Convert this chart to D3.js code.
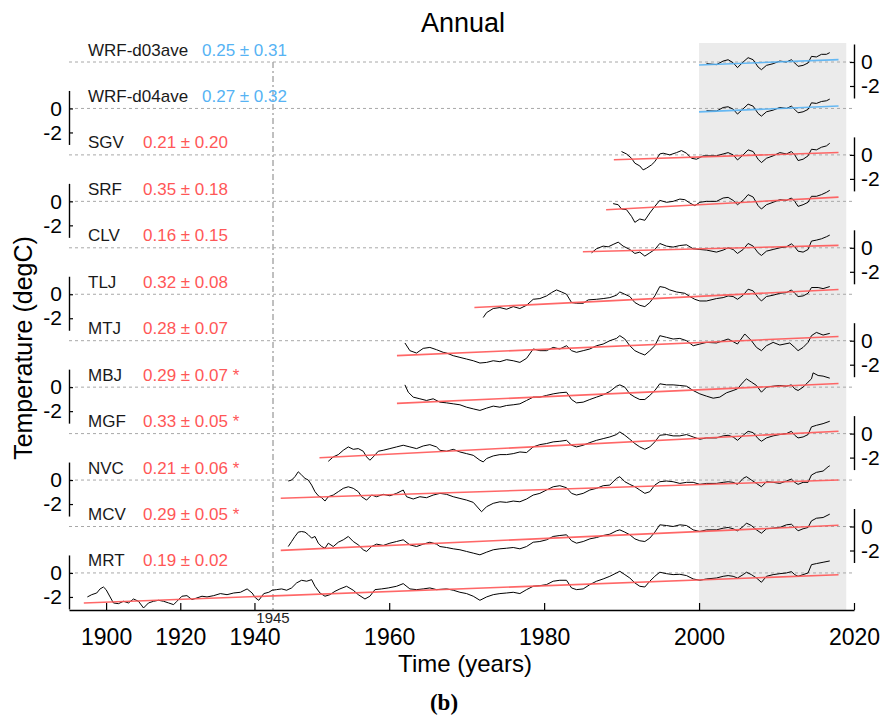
<!DOCTYPE html>
<html>
<head>
<meta charset="utf-8">
<script src="https://cdn.jsdelivr.net/npm/d3@7"></script>
<style>
  body { margin: 0; background: #fff; }
  svg { display: block; font-family: "Liberation Sans", Arial, Helvetica, sans-serif; }
</style>
</head>
<body>
<div id="chart"></div>
<script>
// Stations, top to bottom
const stations = ["WRF-d03ave", "WRF-d04ave", "SGV", "SRF", "CLV", "TLJ", "MTJ", "MBJ", "MGF", "NVC", "MCV", "MRT"];
const isModel = [true, true, false, false, false, false, false, false, false, false, false, false];

// Trend (degC / decade), +/- and significance mark
const trendSlope = [0.25, 0.27, 0.21, 0.35, 0.16, 0.32, 0.28, 0.29, 0.33, 0.21, 0.29, 0.19];
const trendErr = [0.31, 0.32, 0.20, 0.18, 0.15, 0.08, 0.07, 0.07, 0.05, 0.06, 0.05, 0.02];
const trendSigMark = [false, false, false, false, false, false, false, true, true, true, true, false];
const trendStart = [2000, 2000, 1989, 1988, 1985, 1971, 1961, 1961, 1951, 1946, 1946, 1894];
const trendEndYear = 2018;
const trendEndValue = [0.2, 0.2, 0.2, 0.35, 0.2, 0.4, 0.35, 0.3, 0.2, 0.0, 0.1, -0.15];

// Axis ticks
const xTicks = [1900, 1920, 1940, 1960, 1980, 2000, 2020];
const yTicks = [0, -2];
const breakYear = 1945;
const shadeYears = [2000, 2019];

// Anomaly series [year, degC]
const serD03 = [[2000.96,-0.14],[2002.25,-0.22],[2003.11,0.08],[2003.75,0.19],[2004.4,-0.06],[2004.96,-0.47],[2005.69,0],[2006.33,0.36],[2006.98,0.19],[2007.62,-0.42],[2008.05,-0.64],[2008.7,-0.28],[2009.56,-0.14],[2010.42,0.08],[2011.28,0],[2011.92,0.19],[2012.35,-0.08],[2012.78,-0.36],[2013.43,-0.28],[2014.07,-0.08],[2014.51,0.47],[2015.15,0.42],[2015.8,0.64],[2016.44,0.64],[2016.87,0.78]];
const serD04 = [[2000.96,-0.19],[2002.25,-0.22],[2003.11,0.08],[2003.75,0.14],[2004.4,-0.06],[2004.96,-0.47],[2005.69,-0.03],[2006.33,0.36],[2006.98,0.19],[2007.62,-0.42],[2008.05,-0.64],[2008.7,-0.28],[2009.56,-0.14],[2010.42,0.08],[2011.28,0],[2011.92,0.19],[2012.35,-0.08],[2012.78,-0.36],[2013.43,-0.28],[2014.07,-0.08],[2014.51,0.47],[2015.15,0.42],[2015.8,0.58],[2016.44,0.64],[2016.87,0.78]];
const serSGV = [[1989.99,0.28],[1990.63,0.08],[1991.28,-0.28],[1991.71,-0.69],[1992.35,-0.92],[1992.78,-1.25],[1993.21,-1.11],[1993.86,-0.83],[1994.29,-0.56],[1994.93,0.08],[1995.37,0.14],[1996.22,0],[1997.09,0.19],[1997.73,0.36],[1998.38,0.14],[1999.02,-0.28],[1999.67,-0.36],[2000.53,-0.08],[2002.25,-0.08],[2003.11,0.08],[2003.75,0.19],[2004.4,0],[2004.96,-0.42],[2005.69,0],[2006.33,0.42],[2006.98,0.28],[2007.62,-0.36],[2008.05,-0.64],[2008.7,-0.28],[2009.56,-0.08],[2010.42,0.19],[2011.28,0.08],[2011.92,0.28],[2012.35,0],[2012.78,-0.47],[2013.43,-0.36],[2014.07,-0.08],[2014.51,0.47],[2015.15,0.42],[2015.8,0.64],[2016.44,0.75],[2016.87,0.97]];
const serSRF = [[1988.91,-0.19],[1989.56,-0.28],[1989.99,-0.64],[1990.63,-0.69],[1991.28,-1.25],[1991.71,-1.75],[1992.35,-1.47],[1993.0,-1.58],[1993.64,-0.97],[1994.29,-0.42],[1994.93,0.08],[1995.8,-0.08],[1996.65,0],[1997.52,0.19],[1998.16,0.14],[1998.81,-0.14],[1999.45,-0.36],[2000.1,-0.08],[2000.96,0],[2002.25,0],[2003.11,0.28],[2003.75,0.33],[2004.4,0.08],[2004.96,-0.28],[2005.69,0.08],[2006.33,0.56],[2006.98,0.36],[2007.62,-0.36],[2008.05,-0.64],[2008.7,-0.28],[2009.56,-0.08],[2010.42,0.14],[2011.28,0.08],[2011.92,0.28],[2012.35,0],[2012.78,-0.42],[2013.43,-0.28],[2014.07,-0.08],[2014.51,0.42],[2015.15,0.42],[2015.8,0.56],[2016.44,0.75],[2016.87,0.92]];
const serCLV = [[1986.12,-0.42],[1986.76,-0.08],[1987.62,0.14],[1988.27,0.08],[1988.91,0.28],[1989.56,0.47],[1990.2,0.14],[1991.06,-0.14],[1991.71,-0.47],[1992.35,-0.36],[1993.0,-0.69],[1993.64,-0.42],[1994.29,-0.14],[1994.93,0.36],[1995.8,0.14],[1996.65,0.06],[1997.52,0.19],[1998.38,0.25],[1999.24,-0.08],[2000.1,-0.14],[2000.96,-0.19],[2002.25,-0.36],[2003.11,-0.19],[2003.75,0],[2004.4,-0.14],[2004.96,-0.47],[2005.69,-0.14],[2006.33,0.36],[2006.98,0.14],[2007.62,-0.42],[2008.05,-0.64],[2008.7,-0.28],[2009.56,-0.14],[2010.42,0],[2011.28,0.08],[2011.92,0.33],[2012.35,0.08],[2012.78,-0.28],[2013.43,-0.36],[2014.07,-0.14],[2014.51,0.56],[2015.15,0.64],[2015.8,0.75],[2016.44,0.92],[2016.87,1.06]];
const serTLJ = [[1972.14,-1.94],[1972.57,-1.53],[1973.43,-1.19],[1974.29,-1.11],[1975.15,-1.25],[1976.01,-1.03],[1976.87,-1.19],[1977.73,-0.92],[1978.59,-0.42],[1979.45,-0.36],[1980.31,-0.14],[1980.96,0.14],[1981.6,0.36],[1982.25,0.19],[1982.89,0],[1983.54,-0.69],[1984.18,-0.75],[1985.04,-0.75],[1985.69,-0.47],[1986.76,-0.42],[1987.62,-0.36],[1988.48,-0.28],[1989.34,-0.08],[1989.77,0.19],[1990.42,0],[1991.06,-0.19],[1991.71,-0.69],[1992.35,-0.92],[1993.0,-1.03],[1993.64,-0.69],[1994.29,-0.14],[1994.93,0.64],[1995.58,0.56],[1996.22,0.36],[1997.09,0.19],[1998.16,0.08],[1998.81,-0.19],[1999.45,-0.42],[2000.1,-0.56],[2000.96,-0.56],[2002.25,-0.36],[2003.11,-0.28],[2003.75,-0.14],[2004.4,-0.19],[2004.96,-0.42],[2005.69,-0.08],[2006.33,0.42],[2006.98,0.28],[2007.62,-0.28],[2008.05,-0.56],[2008.7,-0.19],[2009.56,-0.08],[2010.42,0.08],[2011.28,0.14],[2011.92,0.36],[2012.35,0.08],[2012.78,-0.19],[2013.43,-0.14],[2014.07,0.08],[2014.51,0.56],[2015.37,0.56],[2016.01,0.47],[2016.87,0.64]];
const serMTJ = [[1962.03,-0.19],[1962.67,-0.83],[1963.53,-1.03],[1964.39,-0.64],[1965.25,-0.56],[1966.11,-0.75],[1966.97,-0.97],[1967.41,-1.03],[1968.27,-1.25],[1969.13,-1.39],[1969.99,-1.53],[1970.85,-1.67],[1971.71,-1.86],[1972.57,-1.81],[1973.43,-1.67],[1974.29,-1.75],[1975.15,-1.58],[1976.01,-1.67],[1976.87,-1.81],[1977.73,-1.47],[1978.59,-0.69],[1979.45,-0.83],[1980.31,-0.83],[1981.17,-0.56],[1982.03,-0.69],[1982.89,-0.42],[1983.54,-0.83],[1984.18,-0.97],[1985.04,-0.83],[1985.9,-0.69],[1986.76,-0.42],[1987.62,-0.28],[1988.48,0],[1989.34,0.19],[1989.77,0.42],[1990.42,0.14],[1991.06,-0.42],[1991.71,-0.83],[1992.35,-1.03],[1993.0,-1.19],[1993.64,-0.83],[1994.29,-0.42],[1994.93,0.42],[1995.8,0.28],[1996.65,0.14],[1997.52,0.19],[1998.38,0],[1999.24,-0.42],[2000.1,-0.28],[2000.96,-0.14],[2002.25,-0.19],[2003.11,0],[2003.75,0.14],[2004.4,-0.08],[2004.96,-0.28],[2005.9,0.56],[2006.76,0],[2007.41,-0.56],[2008.05,-0.83],[2008.7,-0.42],[2009.56,-0.14],[2010.42,-0.36],[2011.71,-0.19],[2012.35,-0.56],[2012.78,-0.83],[2013.43,-0.56],[2014.07,-0.14],[2014.51,0.42],[2015.15,0.69],[2016.01,0.47],[2016.87,0.61]];
const serMBJ = [[1962.03,0.19],[1962.46,-0.42],[1963.1,-0.83],[1963.96,-0.97],[1964.82,-1.11],[1965.68,-0.97],[1966.54,-1.25],[1967.41,-1.31],[1968.27,-1.39],[1969.13,-1.47],[1969.99,-1.67],[1970.85,-1.81],[1971.71,-1.94],[1972.57,-1.75],[1973.43,-1.58],[1974.29,-1.67],[1975.15,-1.53],[1976.01,-1.47],[1976.87,-1.39],[1977.73,-1.11],[1978.59,-0.83],[1979.45,-0.83],[1980.31,-0.69],[1981.17,-0.56],[1982.03,-0.47],[1982.89,-0.42],[1983.54,-1.03],[1984.18,-1.31],[1985.04,-1.25],[1985.9,-1.03],[1986.76,-0.83],[1987.62,-0.64],[1988.48,-0.36],[1989.34,0.08],[1989.77,0.19],[1990.42,0],[1991.06,-0.56],[1991.71,-0.83],[1992.35,-1.03],[1993.0,-1.03],[1993.64,-0.69],[1994.29,-0.28],[1994.93,0.28],[1995.8,0.19],[1996.65,0.19],[1997.52,0.14],[1998.38,0.08],[1999.24,-0.28],[2000.1,-0.56],[2000.96,-0.75],[2001.82,-0.92],[2002.68,-0.83],[2003.54,-0.47],[2004.4,-0.28],[2004.96,-0.14],[2005.69,0.42],[2006.12,0.69],[2006.76,0.42],[2007.41,0.14],[2008.05,-0.42],[2008.7,0],[2009.56,0.08],[2010.42,0.14],[2011.28,0.08],[2011.92,0.19],[2012.35,-0.14],[2012.78,-0.28],[2013.43,0],[2014.07,0.42],[2014.51,0.69],[2014.72,1.19],[2015.37,0.97],[2016.01,0.92],[2016.87,0.75]];
const serMGF = [[1952.14,-2.31],[1952.78,-1.94],[1953.43,-1.75],[1954.07,-1.39],[1954.72,-1.11],[1955.36,-1.31],[1956.01,-1.25],[1956.65,-1.47],[1957.08,-1.94],[1957.51,-2.22],[1957.94,-1.94],[1958.59,-1.47],[1959.23,-1.39],[1960.09,-1.25],[1960.95,-1.11],[1961.81,-0.97],[1962.67,-1.11],[1963.53,-1.25],[1964.39,-1.03],[1965.25,-0.92],[1966.11,-1.11],[1966.55,-1.39],[1967.41,-1.47],[1968.27,-1.31],[1969.13,-1.53],[1969.99,-1.67],[1970.85,-1.81],[1971.71,-2.22],[1972.14,-2.36],[1972.57,-2.08],[1973.43,-1.86],[1974.29,-1.75],[1975.15,-1.75],[1976.01,-1.67],[1976.87,-1.53],[1977.73,-1.58],[1978.59,-1.11],[1979.45,-0.92],[1980.31,-0.83],[1981.17,-0.69],[1982.03,-0.64],[1982.89,-0.56],[1983.54,-0.97],[1984.18,-1.11],[1985.04,-0.97],[1985.9,-0.75],[1986.76,-0.56],[1987.62,-0.42],[1988.48,-0.28],[1989.34,-0.08],[1989.77,0.14],[1990.42,-0.14],[1991.06,-0.47],[1991.71,-0.83],[1992.35,-1.11],[1993.0,-1.31],[1993.64,-1.11],[1994.29,-0.69],[1994.93,-0.14],[1995.8,-0.08],[1996.65,-0.19],[1997.52,-0.19],[1998.38,-0.08],[1999.24,-0.28],[2000.1,-0.47],[2000.96,-0.36],[2002.25,-0.36],[2003.11,-0.19],[2003.75,-0.14],[2004.4,-0.28],[2004.96,-0.56],[2005.69,-0.14],[2006.33,0.19],[2006.98,0.08],[2007.62,-0.42],[2008.05,-0.64],[2008.7,-0.36],[2009.56,-0.19],[2010.42,-0.08],[2011.28,0],[2011.92,0.19],[2012.35,-0.14],[2012.78,-0.36],[2013.43,-0.28],[2014.07,-0.08],[2014.51,0.56],[2015.15,0.69],[2016.01,0.83],[2016.87,1.03]];
const serNVC = [[1946.97,-0.08],[1947.4,0],[1947.83,0.28],[1948.26,0.69],[1948.69,0.42],[1949.13,0.14],[1949.56,0],[1949.99,-0.42],[1950.42,-0.97],[1950.85,-1.31],[1951.28,-1.47],[1951.71,-1.75],[1952.14,-1.39],[1952.78,-1.25],[1953.43,-0.97],[1954.07,-0.69],[1954.72,-0.56],[1955.36,-0.69],[1956.01,-0.97],[1956.44,-1.39],[1957.08,-1.67],[1957.73,-1.25],[1958.37,-1.39],[1959.23,-1.19],[1960.09,-1.31],[1960.95,-1.11],[1961.81,-0.83],[1962.24,-1.39],[1963.1,-1.58],[1963.96,-1.39],[1964.82,-1.47],[1965.68,-1.25],[1966.55,-1.11],[1967.41,-1.19],[1968.27,-1.39],[1969.13,-1.53],[1969.99,-1.67],[1970.85,-1.86],[1971.92,-2.64],[1972.57,-2.22],[1973.43,-1.94],[1974.29,-1.81],[1975.15,-1.86],[1976.01,-1.75],[1976.87,-1.81],[1977.73,-1.58],[1978.59,-1.25],[1979.45,-1.11],[1980.31,-0.83],[1981.17,-0.56],[1982.03,-0.47],[1982.89,-0.64],[1983.54,-1.11],[1984.18,-1.25],[1985.04,-1.11],[1985.9,-0.83],[1986.76,-0.69],[1987.62,-0.47],[1988.48,-0.42],[1989.34,0.14],[1989.77,0.28],[1990.42,-0.14],[1991.06,-0.36],[1991.71,-0.56],[1992.35,-0.83],[1993.0,-1.11],[1993.64,-0.97],[1994.29,-0.42],[1994.93,-0.14],[1995.8,-0.08],[1996.65,-0.14],[1997.52,-0.28],[1998.38,-0.19],[1999.24,-0.19],[2000.1,-0.36],[2000.96,-0.28],[2002.25,-0.28],[2003.11,-0.19],[2003.75,-0.14],[2004.4,-0.19],[2004.96,-0.36],[2005.69,0.14],[2006.12,0.28],[2006.76,0],[2007.41,-0.28],[2008.05,-0.56],[2008.7,-0.14],[2009.56,-0.19],[2010.42,-0.28],[2011.28,-0.08],[2011.92,0.08],[2012.35,-0.19],[2012.78,-0.36],[2013.43,-0.19],[2014.07,-0.19],[2014.51,0.42],[2015.15,0.64],[2016.01,0.75],[2016.66,1.11],[2016.87,1.19]];
const serMCV = [[1946.97,-1.67],[1947.4,-1.25],[1947.83,-0.83],[1948.26,-0.47],[1948.69,-0.42],[1949.13,-0.47],[1949.56,-0.69],[1949.99,-0.97],[1950.42,-0.83],[1950.85,-1.39],[1951.28,-1.67],[1951.71,-1.81],[1952.14,-1.39],[1952.78,-1.67],[1953.43,-1.31],[1954.07,-1.11],[1954.72,-0.83],[1955.36,-1.25],[1956.01,-1.53],[1956.65,-1.94],[1957.08,-2.08],[1957.73,-1.67],[1958.37,-1.47],[1959.23,-1.58],[1960.09,-1.39],[1960.95,-1.25],[1961.81,-1.11],[1962.67,-1.53],[1963.53,-1.67],[1964.39,-1.47],[1965.25,-1.31],[1966.11,-1.47],[1966.55,-1.67],[1967.41,-1.75],[1968.27,-1.86],[1969.13,-1.94],[1969.99,-2.08],[1970.85,-2.22],[1971.71,-2.36],[1972.57,-2.14],[1973.43,-1.94],[1974.29,-1.86],[1975.15,-1.81],[1976.01,-1.75],[1976.87,-1.86],[1977.73,-1.67],[1978.59,-1.31],[1979.45,-1.25],[1980.31,-1.11],[1981.17,-0.83],[1982.03,-0.75],[1982.89,-0.69],[1983.54,-1.19],[1984.18,-1.39],[1985.04,-1.25],[1985.9,-1.03],[1986.76,-0.92],[1987.62,-0.75],[1988.48,-0.64],[1989.34,-0.36],[1989.77,-0.28],[1990.42,-0.47],[1991.06,-0.69],[1991.71,-1.03],[1992.35,-1.19],[1993.0,-1.25],[1993.64,-0.97],[1994.29,-0.47],[1994.93,0.14],[1995.8,0.08],[1996.65,0],[1997.52,0.14],[1998.38,0.08],[1999.24,-0.28],[2000.1,-0.42],[2000.96,-0.28],[2002.25,-0.28],[2003.11,-0.14],[2003.75,-0.08],[2004.4,-0.19],[2004.96,-0.36],[2005.69,0],[2006.12,0.28],[2006.76,0.08],[2007.41,-0.28],[2008.05,-0.56],[2008.7,-0.19],[2009.56,-0.14],[2010.42,-0.08],[2011.28,0.14],[2011.92,0.19],[2012.35,-0.08],[2012.78,-0.36],[2013.43,-0.19],[2014.07,-0.08],[2014.51,0.47],[2015.15,0.69],[2016.01,0.75],[2016.87,1.03]];
const serMRT = [[1894.95,-2.0],[1896.13,-1.81],[1897.48,-1.67],[1898.38,-1.33],[1899.28,-1.17],[1900.0,-1.39],[1901.08,-2.0],[1901.98,-2.5],[1903.33,-2.56],[1904.68,-2.36],[1906.04,-2.5],[1907.39,-2.17],[1908.74,-2.36],[1910.09,-2.92],[1911.44,-2.5],[1912.79,-2.36],[1914.14,-2.28],[1915.5,-2.36],[1916.85,-2.5],[1918.2,-2.64],[1919.1,-2.36],[1920.45,-1.94],[1921.8,-1.89],[1923.15,-2.22],[1924.5,-2.08],[1925.86,-1.94],[1927.21,-2.0],[1929.01,-1.89],[1930.81,-1.72],[1932.61,-1.81],[1934.41,-1.67],[1936.22,-1.61],[1938.02,-1.33],[1939.37,-1.67],[1940.27,-2.08],[1941.17,-2.28],[1942.52,-1.72],[1943.87,-1.61],[1944.77,-1.44],[1945.47,-1.39],[1946.11,-1.33],[1946.76,-1.44],[1947.4,-1.25],[1948.05,-0.83],[1948.69,-0.61],[1949.34,-0.69],[1949.99,-0.56],[1950.42,-1.11],[1951.06,-1.67],[1951.71,-1.94],[1952.35,-1.81],[1953.0,-1.53],[1953.64,-1.33],[1954.5,-1.11],[1955.36,-1.44],[1956.01,-1.81],[1956.87,-2.17],[1957.51,-1.94],[1958.16,-1.39],[1959.02,-1.33],[1959.88,-1.25],[1960.95,-1.11],[1961.81,-0.89],[1962.67,-1.33],[1963.53,-1.39],[1964.39,-1.33],[1965.25,-1.25],[1966.11,-1.39],[1967.41,-1.33],[1968.27,-1.44],[1969.13,-1.61],[1969.99,-1.72],[1970.85,-1.94],[1971.71,-2.28],[1972.57,-2.0],[1973.43,-1.81],[1974.29,-1.72],[1975.15,-1.67],[1976.01,-1.61],[1976.87,-1.72],[1977.73,-1.39],[1978.59,-1.11],[1979.45,-1.06],[1980.31,-0.97],[1981.17,-0.69],[1982.03,-0.61],[1982.89,-0.61],[1983.54,-1.25],[1984.18,-1.39],[1985.04,-1.33],[1985.9,-0.97],[1986.76,-0.69],[1987.62,-0.5],[1988.48,-0.28],[1989.34,0],[1989.77,0.14],[1990.42,-0.14],[1991.06,-0.42],[1991.71,-0.83],[1992.35,-1.11],[1993.0,-1.17],[1993.64,-0.69],[1994.29,-0.28],[1994.93,0.06],[1995.8,-0.06],[1996.65,-0.14],[1997.52,-0.11],[1998.38,-0.22],[1999.24,-0.5],[2000.1,-0.61],[2000.96,-0.5],[2002.25,-0.42],[2003.11,-0.28],[2003.75,-0.22],[2004.4,-0.28],[2004.96,-0.42],[2005.69,-0.14],[2006.12,0.06],[2006.76,-0.14],[2007.41,-0.42],[2008.05,-0.78],[2008.7,-0.28],[2009.56,-0.14],[2010.42,-0.06],[2011.28,0],[2011.92,0.11],[2012.35,-0.14],[2012.78,-0.28],[2013.43,-0.14],[2014.07,0],[2014.51,0.69],[2015.15,0.78],[2016.01,0.89],[2016.87,1.0]];

const series = [serD03, serD04, serSGV, serSRF, serCLV, serTLJ, serMTJ, serMBJ, serMGF, serNVC, serMCV, serMRT];

// Layout
const width = 887, height = 724;
const plotLeft = 69, plotRight = 854, plotBottom = 610, shadeTop = 43;
const rowTop = 62, rowStep = 46.45, pxPerDeg = 12;
const blue = "#56b3f4", red = "#ff5757";
const font = "'Liberation Sans', Arial, Helvetica, sans-serif";

// broken time axis: 1890-1945 compressed, 1945-2020 wide
const x = d3.scaleLinear().domain([1890, breakYear, 2020]).range([plotLeft, 273, plotRight]);

const svg = d3.select("#chart").append("svg")
  .attr("width", width)
  .attr("height", height);

// shaded WRF period
svg.append("rect")
  .attr("x", x(shadeYears[0]))
  .attr("y", shadeTop)
  .attr("width", x(shadeYears[1]) - x(shadeYears[0]))
  .attr("height", plotBottom - shadeTop)
  .attr("fill", "#ebebeb");

// 1945 marker line
svg.append("line")
  .attr("x1", x(breakYear)).attr("x2", x(breakYear))
  .attr("y1", rowTop).attr("y2", plotBottom)
  .attr("stroke", "#808080")
  .attr("stroke-width", 1)
  .attr("stroke-dasharray", "6,3,2,3");

const line = d3.line().curve(d3.curveLinear);

stations.forEach((name, i) => {
  const base = rowTop + i * rowStep;
  const y = d3.scaleLinear().domain([-3, 1.5]).range([base + 3 * pxPerDeg, base - 1.5 * pxPerDeg]);

  // zero line
  svg.append("line")
    .attr("x1", plotLeft).attr("x2", plotRight)
    .attr("y1", y(0)).attr("y2", y(0))
    .attr("stroke", "#a8a8a8")
    .attr("stroke-width", 1)
    .attr("stroke-dasharray", "3,3");

  // data
  svg.append("path")
    .attr("d", line.x(d => x(d[0])).y(d => y(d[1]))(series[i]))
    .attr("fill", "none")
    .attr("stroke", "#000")
    .attr("stroke-width", 1)
    .attr("stroke-linejoin", "round");

  // trend line
  const t0 = trendStart[i];
  const v1 = trendEndValue[i];
  const v0 = v1 - trendSlope[i] * (trendEndYear - t0) / 10;
  svg.append("path")
    .attr("d", line.x(d => x(d[0])).y(d => y(d[1]))([[t0, v0], [trendEndYear, v1]]))
    .attr("fill", "none")
    .attr("stroke", isModel[i] ? blue : red)
    .attr("stroke-opacity", 0.9)
    .attr("stroke-width", 1.6);

  // labels
  svg.append("text")
    .attr("x", 88).attr("y", base - 6.5)
    .attr("font-size", 17)
    .attr("fill", "#1a1a1a")
    .attr("font-family", font)
    .text(name);

  svg.append("text")
    .attr("x", isModel[i] ? 202 : 143).attr("y", base - 6.5)
    .attr("font-size", 17)
    .attr("fill", isModel[i] ? blue : red)
    .attr("font-family", font)
    .text(trendSlope[i].toFixed(2) + " \u00b1 " + trendErr[i].toFixed(2) + (trendSigMark[i] ? " *" : ""));

  // alternating y axes
  const onLeft = i % 2 === 1;
  const axis = (onLeft ? d3.axisLeft(y) : d3.axisRight(y))
    .tickValues(yTicks)
    .tickSizeInner(-4)
    .tickSizeOuter(0)
    .tickPadding(7)
    .tickFormat(d => String(d));
  const g = svg.append("g")
    .attr("transform", `translate(${onLeft ? plotLeft : plotRight},0)`)
    .call(axis);
  g.attr("font-size", 21).attr("font-family", font);
  g.select(".domain").attr("stroke-width", 1.4);
  g.selectAll(".tick line").attr("stroke-width", 1.2);
  g.selectAll(".tick text").attr("fill", "#000");
});

// time axis
const xAxis = d3.axisBottom(x)
  .tickValues(xTicks)
  .tickSizeInner(-7)
  .tickSizeOuter(0)
  .tickPadding(19)
  .tickFormat(d3.format("d"));
const gx = svg.append("g")
  .attr("transform", `translate(0,${plotBottom})`)
  .call(xAxis);
gx.attr("font-size", 23).attr("font-family", font);
gx.select(".domain").attr("stroke-width", 1.6);
gx.selectAll(".tick line").attr("stroke-width", 1.2);
gx.selectAll(".tick text").attr("fill", "#000");

svg.append("text")
  .attr("x", x(breakYear)).attr("y", 623)
  .attr("text-anchor", "middle")
  .attr("font-size", 15)
  .attr("font-family", font)
  .attr("fill", "#222")
  .text(String(breakYear));

// titles
svg.append("text")
  .attr("x", 463).attr("y", 32)
  .attr("text-anchor", "middle")
  .attr("font-size", 27)
  .attr("font-family", font)
  .text("Annual");

svg.append("text")
  .attr("x", 465).attr("y", 672)
  .attr("text-anchor", "middle")
  .attr("font-size", 24)
  .attr("font-family", font)
  .text("Time (years)");

svg.append("text")
  .attr("transform", "translate(32,348) rotate(-90)")
  .attr("text-anchor", "middle")
  .attr("font-size", 25)
  .attr("font-family", font)
  .text("Temperature (degC)");

svg.append("text")
  .attr("x", 444).attr("y", 710)
  .attr("text-anchor", "middle")
  .attr("font-size", 23)
  .attr("font-family", "'Liberation Serif', 'DejaVu Serif', serif")
  .attr("font-weight", "bold")
  .text("(b)");
</script>
</body>
</html>
